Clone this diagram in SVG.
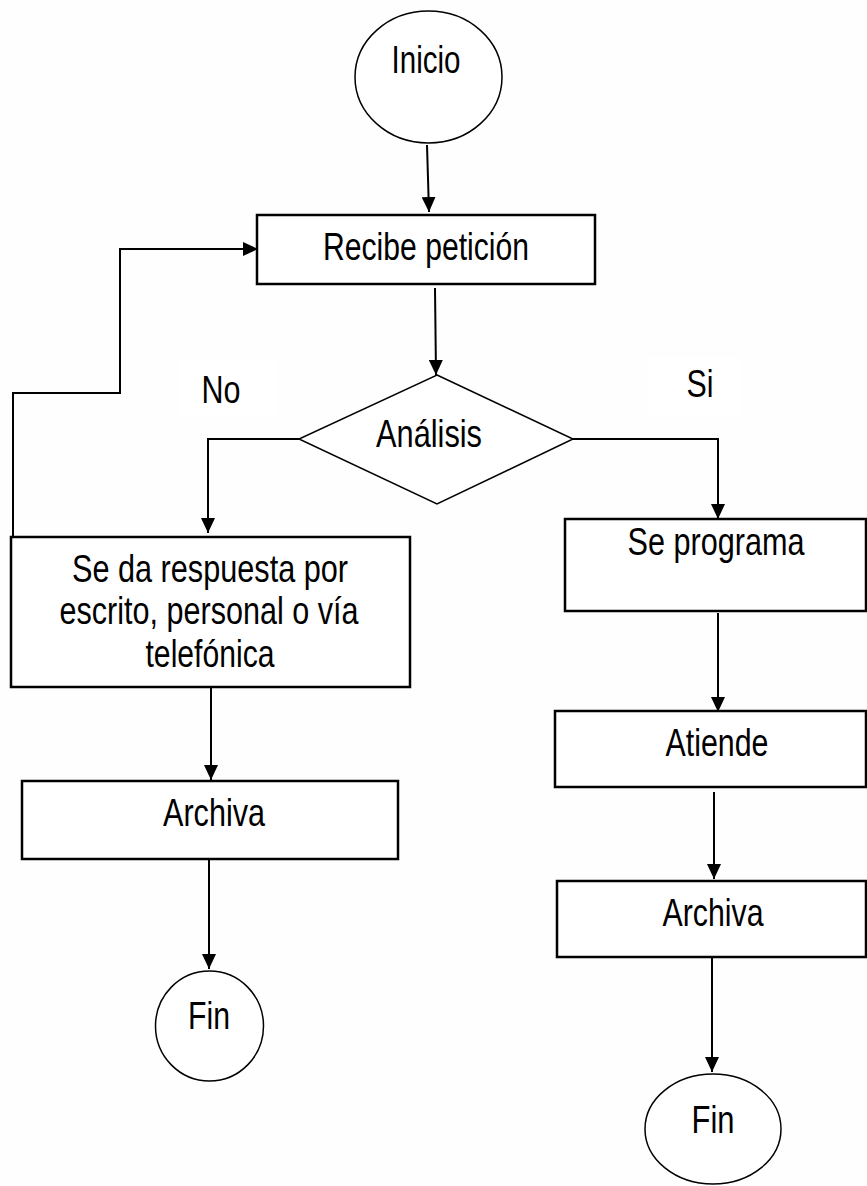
<svg xmlns="http://www.w3.org/2000/svg" width="867" height="1186" viewBox="0 0 867 1186">
<style>
  .box { fill: #ffffff; stroke: #000; stroke-width: 2.5; }
  .term { fill: #ffffff; stroke: #000; stroke-width: 1.5; }
  .lbl { font-family: "Liberation Sans Narrow", "Liberation Sans", Arial, sans-serif; font-size: 39px; fill: #000; text-anchor: middle; }
  .conn { fill: none; stroke: #000; stroke-width: 2; }
  .lblbg { fill: #ffffff; stroke: none; }
</style>
<defs>
  <marker id="arrow" markerUnits="userSpaceOnUse" markerWidth="16" markerHeight="14" refX="15" refY="7" orient="auto">
    <path d="M0,0 L15,7 L0,14 z" fill="#000"/>
  </marker>
</defs>
<rect x="0" y="0" width="867" height="1186" fill="#fefefe"/>

<g id="connectors">
  <line class="conn" x1="427" y1="145" x2="429" y2="212" marker-end="url(#arrow)"/>
  <polyline class="conn" points="13,537 13,393 120,393 120,249 258,249" marker-end="url(#arrow)"/>
  <line class="conn" x1="435" y1="288" x2="436" y2="375" marker-end="url(#arrow)"/>
  <polyline class="conn" points="299,439 208,439 208,533" marker-end="url(#arrow)"/>
  <polyline class="conn" points="573,439 718,439 718,519" marker-end="url(#arrow)"/>
  <line class="conn" x1="211" y1="687" x2="211" y2="780" marker-end="url(#arrow)"/>
  <line class="conn" x1="209" y1="859" x2="209" y2="969" marker-end="url(#arrow)"/>
  <line class="conn" x1="718" y1="613" x2="718" y2="712" marker-end="url(#arrow)"/>
  <line class="conn" x1="714" y1="792" x2="714" y2="879" marker-end="url(#arrow)"/>
  <line class="conn" x1="712" y1="957" x2="712" y2="1072" marker-end="url(#arrow)"/>
</g>

<g id="label-no">
  <rect class="lblbg" x="180" y="358" width="97" height="60"/>
  <text class="lbl" x="221" y="403" textLength="39" lengthAdjust="spacingAndGlyphs">No</text>
</g>
<g id="label-si">
  <rect class="lblbg" x="648" y="357" width="94" height="60"/>
  <text class="lbl" x="700" y="397" textLength="27" lengthAdjust="spacingAndGlyphs">Si</text>
</g>

<g id="inicio">
  <ellipse class="term" cx="428.5" cy="77" rx="73.5" ry="66"/>
  <text class="lbl" x="426" y="73" textLength="69" lengthAdjust="spacingAndGlyphs">Inicio</text>
</g>

<g id="recibe">
  <rect class="box" x="257" y="215" width="338" height="69"/>
  <text class="lbl" x="426" y="260" textLength="206" lengthAdjust="spacingAndGlyphs">Recibe petición</text>
</g>

<g id="analisis">
  <polygon class="term" points="437,375 573,439 437,504 299,439"/>
  <text class="lbl" x="429" y="447" textLength="106" lengthAdjust="spacingAndGlyphs">Análisis</text>
</g>

<g id="respuesta">
  <rect class="box" x="11" y="537" width="399" height="150"/>
  <text class="lbl" x="210" y="582" textLength="276" lengthAdjust="spacingAndGlyphs">Se da respuesta por</text>
  <text class="lbl" x="209" y="624" textLength="299" lengthAdjust="spacingAndGlyphs">escrito, personal o vía</text>
  <text class="lbl" x="210" y="667" textLength="129" lengthAdjust="spacingAndGlyphs">telefónica</text>
</g>

<g id="programa">
  <rect class="box" x="565" y="519" width="301" height="92"/>
  <text class="lbl" x="716" y="555" textLength="177" lengthAdjust="spacingAndGlyphs">Se programa</text>
</g>

<g id="archiva-left">
  <rect class="box" x="22" y="781" width="376" height="78"/>
  <text class="lbl" x="214" y="826" textLength="102" lengthAdjust="spacingAndGlyphs">Archiva</text>
</g>

<g id="fin-left">
  <ellipse class="term" cx="209.5" cy="1026" rx="54" ry="55"/>
  <text class="lbl" x="209" y="1029" textLength="42" lengthAdjust="spacingAndGlyphs">Fin</text>
</g>

<g id="atiende">
  <rect class="box" x="555" y="711" width="311" height="76"/>
  <text class="lbl" x="717" y="756" textLength="103" lengthAdjust="spacingAndGlyphs">Atiende</text>
</g>

<g id="archiva-right">
  <rect class="box" x="557" y="881" width="309" height="76"/>
  <text class="lbl" x="713" y="926" textLength="101" lengthAdjust="spacingAndGlyphs">Archiva</text>
</g>

<g id="fin-right">
  <ellipse class="term" cx="713" cy="1129" rx="68" ry="55"/>
  <text class="lbl" x="713" y="1133" textLength="43" lengthAdjust="spacingAndGlyphs">Fin</text>
</g>
</svg>
